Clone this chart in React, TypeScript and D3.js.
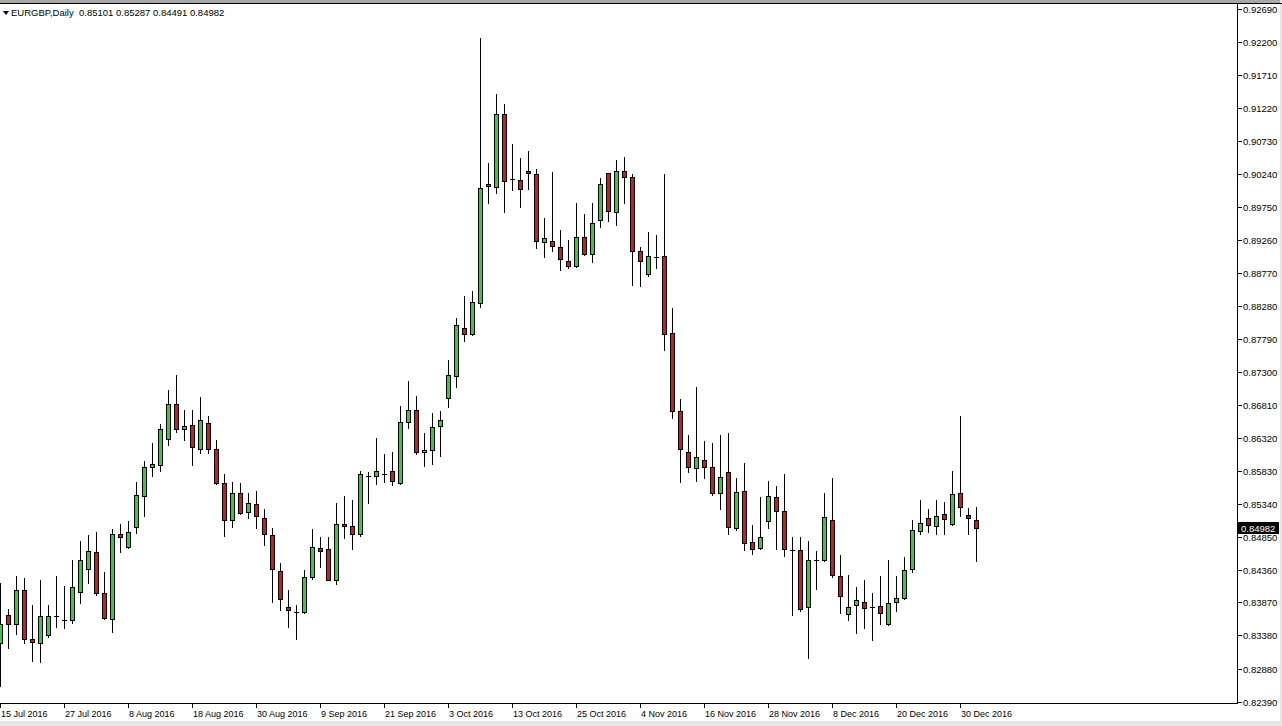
import React from "react";
import * as d3 from "d3";

const symbol = "EURGBP,Daily";
const lastOHLC = ["0.85101", "0.85287", "0.84491", "0.84982"];
const lastPrice = "0.84982";

const opens = [
  0.83267, 0.83679, 0.83545, 0.84055, 0.83322, 0.83271, 0.83386, 0.83662, 0.83608, 0.83609,
  0.84021, 0.84363, 0.84616, 0.84006, 0.83619, 0.84883, 0.8469, 0.84987, 0.85448, 0.8588,
  0.85909, 0.86296, 0.86816, 0.86445, 0.86504, 0.86147, 0.86534, 0.86147, 0.85642, 0.85091,
  0.85493, 0.8521, 0.85329, 0.85121, 0.84868, 0.84333, 0.83798, 0.83722, 0.83723, 0.84244,
  0.84675, 0.8466, 0.84199, 0.85032, 0.85002, 0.84883, 0.85745, 0.85746, 0.85783, 0.8582,
  0.85642, 0.86549, 0.86727, 0.86103, 0.86132, 0.86489, 0.86906, 0.87242, 0.87955, 0.87857,
  0.88318, 0.90088, 0.90043, 0.91129, 0.9017, 0.90147, 0.90281, 0.90237, 0.89225, 0.8924,
  0.89151, 0.88943, 0.88868, 0.893, 0.89047, 0.89552, 0.90251, 0.89671, 0.90281, 0.90192,
  0.89092, 0.8875, 0.8901, 0.89017, 0.87872, 0.86712, 0.86103, 0.85865, 0.85984, 0.8588,
  0.85493, 0.85805, 0.84973, 0.85523, 0.84764, 0.84675, 0.85077, 0.85433, 0.85225, 0.84649,
  0.84645, 0.83798, 0.845, 0.84497, 0.85091, 0.84259, 0.83694, 0.83828, 0.83872, 0.83806,
  0.83813, 0.83545, 0.83872, 0.83932, 0.84363, 0.84928, 0.85121, 0.85002, 0.85181, 0.85032,
  0.85493, 0.85166, 0.85101,
];

const highs = [
  0.84159, 0.83773, 0.84263, 0.84229, 0.83832, 0.84204, 0.83832, 0.84263, 0.84115, 0.84501,
  0.84784, 0.84873, 0.84913, 0.84323, 0.84958, 0.85032, 0.85077, 0.85657, 0.85973, 0.86236,
  0.86519, 0.87025, 0.87252, 0.86727, 0.86727, 0.8692, 0.86638, 0.86281, 0.85776, 0.85657,
  0.85642, 0.85493, 0.85523, 0.85255, 0.84973, 0.84452, 0.84051, 0.83828, 0.84348, 0.84958,
  0.84839, 0.84839, 0.85344, 0.85448, 0.85389, 0.8582, 0.85805, 0.86311, 0.86073, 0.86103,
  0.86787, 0.87158, 0.86935, 0.86385, 0.86683, 0.86712, 0.87475, 0.88095, 0.88427, 0.88497,
  0.92259, 0.904, 0.91426, 0.91282, 0.90683, 0.90474, 0.90578, 0.90311, 0.89582, 0.90266,
  0.89404, 0.89255, 0.89805, 0.89646, 0.89805, 0.90177, 0.90263, 0.90445, 0.90489, 0.90237,
  0.89151, 0.89374, 0.89329, 0.90237, 0.88244, 0.86891, 0.86355, 0.87074, 0.86266, 0.86236,
  0.86355, 0.86385, 0.85716, 0.85939, 0.85017, 0.85433, 0.85671, 0.85597, 0.85776, 0.84839,
  0.84839, 0.84779, 0.84631, 0.85493, 0.85716, 0.84571, 0.84274, 0.84095, 0.84199, 0.84006,
  0.84259, 0.84497, 0.84259, 0.84541, 0.85091, 0.85389, 0.85255, 0.85389, 0.85359, 0.8582,
  0.86638, 0.8527, 0.85287,
];

const lows = [
  0.82628, 0.83188, 0.83401, 0.83271, 0.83004, 0.82989, 0.83361, 0.83509, 0.83486, 0.83569,
  0.83857, 0.84164, 0.83988, 0.83624, 0.83435, 0.84625, 0.84679, 0.84898, 0.8516, 0.85755,
  0.85829, 0.86207, 0.864, 0.86281, 0.85909, 0.86088, 0.86088, 0.85627, 0.84854, 0.84987,
  0.85181, 0.85121, 0.84973, 0.8472, 0.83872, 0.83753, 0.83509, 0.83331, 0.83713, 0.84214,
  0.84393, 0.84199, 0.8414, 0.84824, 0.84669, 0.84854, 0.85344, 0.85627, 0.85657, 0.85612,
  0.85627, 0.8646, 0.86073, 0.85894, 0.85924, 0.86043, 0.86772, 0.87078, 0.87762, 0.87847,
  0.88268, 0.89805, 0.89954, 0.89671, 0.89999, 0.89746, 0.90013, 0.89136, 0.89002, 0.89092,
  0.88809, 0.88839, 0.88854, 0.89037, 0.88928, 0.89448, 0.89538, 0.89478, 0.89805, 0.88586,
  0.88571, 0.8872, 0.88839, 0.87624, 0.86608, 0.85657, 0.85805, 0.85671, 0.85716, 0.85463,
  0.85255, 0.84883, 0.84943, 0.84645, 0.84586, 0.8466, 0.84973, 0.8466, 0.84556, 0.83679,
  0.83738, 0.83039, 0.84065, 0.84482, 0.84244, 0.83709, 0.83604, 0.83411, 0.83486, 0.83307,
  0.83545, 0.83535, 0.83738, 0.83922, 0.84318, 0.84883, 0.84913, 0.84883, 0.84883, 0.85017,
  0.85151, 0.84883, 0.84491,
];

const closes = [
  0.83549, 0.83545, 0.84055, 0.83322, 0.83286, 0.83664, 0.83664, 0.83665, 0.8361, 0.84095,
  0.84497, 0.84631, 0.84006, 0.83643, 0.84883, 0.84839, 0.84922, 0.85463, 0.8588, 0.85924,
  0.86445, 0.86816, 0.86445, 0.86489, 0.86177, 0.86578, 0.86147, 0.85642, 0.85091, 0.85493,
  0.85196, 0.85344, 0.85151, 0.84883, 0.84363, 0.83917, 0.83753, 0.83724, 0.84244, 0.8469,
  0.84631, 0.84208, 0.85032, 0.85002, 0.84883, 0.85776, 0.85747, 0.8582, 0.85785, 0.85671,
  0.86549, 0.86727, 0.86103, 0.86132, 0.86474, 0.86578, 0.87252, 0.87991, 0.87857, 0.88333,
  0.90028, 0.90058, 0.91129, 0.90132, 0.90172, 0.90013, 0.90251, 0.8924, 0.89285, 0.89166,
  0.88972, 0.88868, 0.893, 0.89047, 0.89508, 0.90088, 0.89686, 0.90281, 0.90192, 0.89092,
  0.88943, 0.89017, 0.89012, 0.87857, 0.86712, 0.86147, 0.8588, 0.86028, 0.8588, 0.85493,
  0.85731, 0.84987, 0.85508, 0.84749, 0.8466, 0.84839, 0.85448, 0.85225, 0.8466, 0.84651,
  0.83777, 0.84497, 0.84502, 0.85136, 0.84274, 0.83961, 0.83807, 0.83902, 0.83783, 0.83808,
  0.83709, 0.83857, 0.83932, 0.84348, 0.84943, 0.85047, 0.85017, 0.85151, 0.85106, 0.85478,
  0.85285, 0.85121, 0.84982,
];

const priceTicks = [
  "0.92690", "0.92200", "0.91710", "0.91220", "0.90730", "0.90240", "0.89750", "0.89260",
  "0.88770", "0.88280", "0.87790", "0.87300", "0.86810", "0.86320", "0.85830", "0.85340",
  "0.84850", "0.84360", "0.83870", "0.83380", "0.82880", "0.82390",
];

const dateTicks = [
  "15 Jul 2016", "27 Jul 2016", "8 Aug 2016", "18 Aug 2016", "30 Aug 2016", "9 Sep 2016",
  "21 Sep 2016", "3 Oct 2016", "13 Oct 2016", "25 Oct 2016", "4 Nov 2016", "16 Nov 2016",
  "28 Nov 2016", "8 Dec 2016", "20 Dec 2016", "30 Dec 2016",
];

const W = 1282;
const H = 726;
const GREEN = "#35cc35";
const RED = "#cb1d1d";
const FONT = "'Liberation Sans', Arial, sans-serif";

export default function App() {
  const n = opens.length;
  const days = d3
    .timeDay.range(new Date(2016, 6, 15), new Date(2017, 0, 4))
    .filter((d) => d.getDay() !== 0 && d.getDay() !== 6)
    .slice(0, n);
  const fmt = d3.timeFormat("%-d %b %Y");

  const x = d3.scaleLinear().domain([0, n - 1]).range([0, 8 * (n - 1)]);
  const y = d3.scaleLinear().domain([0.8239, 0.9269]).range([702, 9.3]);

  const plotRight = 1237;
  const plotTop = 3;
  const plotBottom = 703;

  const col = (i: number) => Math.round(x(i)) + 0.5;
  const ry = (v: number) => Math.round(y(v));

  return (
    <svg
      width={W}
      height={H}
      style={{ position: "absolute", left: 0, top: 0, display: "block", background: "#fff" }}
      fontFamily={FONT}
    >
      <rect x={0} y={0} width={W} height={H} fill="#ffffff" />
      <rect x={0} y={0} width={W} height={3} fill="#a8a8a8" />
      <rect x={0} y={721} width={W} height={5} fill="#e6e6e6" />
      <rect x={1280} y={0} width={2} height={H} fill="#e6e6e6" />

      {/* candles */}
      <g>
        {opens.map((o, i) => {
          const c = closes[i];
          const cx = col(i);
          const top = ry(Math.max(o, c));
          const bot = ry(Math.min(o, c));
          const up = c >= o;
          return (
            <g key={i}>
              <line
                x1={cx}
                x2={cx}
                y1={ry(highs[i])}
                y2={ry(lows[i]) + 1}
                stroke="#000"
                strokeWidth={1}
                shapeRendering="crispEdges"
              />
              {bot - top < 2 ? (
                <line
                  x1={cx - 2.5}
                  x2={cx + 2.5}
                  y1={top + 0.5}
                  y2={top + 0.5}
                  stroke="#000"
                  strokeWidth={1}
                  shapeRendering="crispEdges"
                />
              ) : (
                <rect
                  x={cx - 2}
                  y={top + 0.5}
                  width={4}
                  height={bot - top}
                  fill={up ? GREEN : RED}
                  stroke="#000"
                  strokeWidth={1}
                  shapeRendering="crispEdges"
                />
              )}
            </g>
          );
        })}
      </g>

      {/* frame */}
      <line x1={0} x2={W} y1={plotTop + 0.5} y2={plotTop + 0.5} stroke="#000" shapeRendering="crispEdges" />
      <line x1={plotRight + 0.5} x2={plotRight + 0.5} y1={plotTop} y2={plotBottom + 1} stroke="#000" shapeRendering="crispEdges" />
      <line x1={0} x2={plotRight + 1} y1={plotBottom + 0.5} y2={plotBottom + 0.5} stroke="#000" shapeRendering="crispEdges" />

      {/* price axis */}
      <g fontSize={9.5} fill="#000">
        {priceTicks.map((t) => {
          const ty = Math.round(y(+t)) + 0.5;
          return (
            <g key={t}>
              <line x1={plotRight + 1} x2={plotRight + 5} y1={ty} y2={ty} stroke="#000" shapeRendering="crispEdges" />
              <text x={1243} y={ty} dy="0.36em">
                {t}
              </text>
            </g>
          );
        })}
      </g>

      {/* current price label */}
      <g>
        <rect x={plotRight + 1} y={Math.round(y(+lastPrice)) - 6} width={41} height={12} fill="#000" />
        <text x={1241} y={Math.round(y(+lastPrice)) + 0.5} dy="0.36em" fontSize={9.5} fill="#fff">
          {lastPrice}
        </text>
      </g>

      {/* date axis */}
      <g fontSize={9} fill="#000">
        {dateTicks.map((t) => {
          const idx = days.findIndex((d) => fmt(d) === t);
          if (idx < 0) return null;
          const tx = col(idx);
          return (
            <g key={t}>
              <line x1={tx} x2={tx} y1={plotBottom} y2={plotBottom + 5} stroke="#000" shapeRendering="crispEdges" />
              <text x={tx + 0.5} y={717}>
                {t}
              </text>
            </g>
          );
        })}
      </g>

      {/* header */}
      <path d="M3,11 L9,11 L6,15 Z" fill="#000" />
      <text x={11} y={16} fontSize={9.5} fill="#000">
        {symbol}
      </text>
      <text x={79} y={16} fontSize={9.5} fill="#000">
        {lastOHLC.join(" ")}
      </text>
    </svg>
  );
}
